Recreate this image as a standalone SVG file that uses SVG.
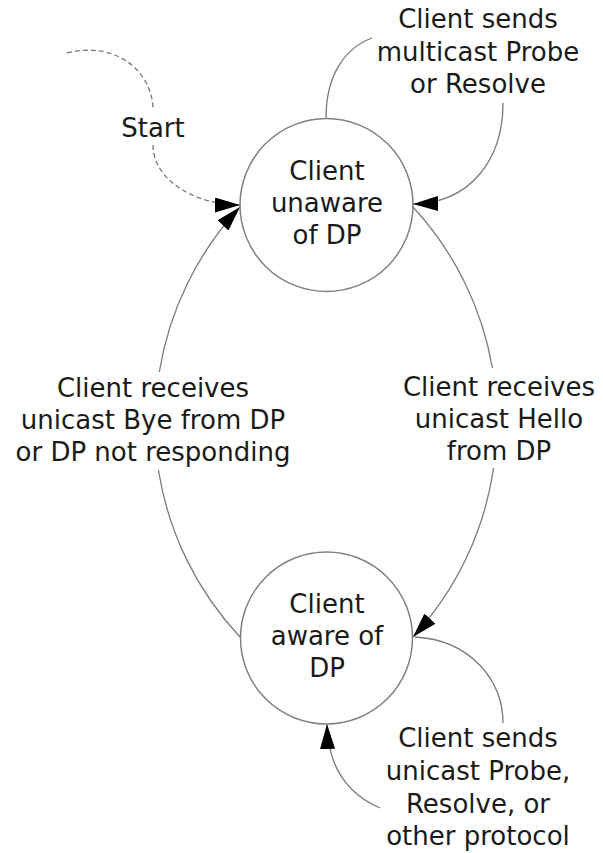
<svg xmlns="http://www.w3.org/2000/svg" width="603" height="853" viewBox="0 0 603 853">
<style>
.node{fill:#ffffff;stroke:#808080;stroke-width:1.5}
.lbl{font-family:"DejaVu Sans",Verdana,sans-serif;font-size:26px;fill:#1a1a1a;text-anchor:middle}
.edge{fill:none;stroke:#7a7a7a;stroke-width:1.3}
.dash{stroke-dasharray:5 3}
</style>
<defs>
<marker id="arr" markerUnits="userSpaceOnUse" markerWidth="26" markerHeight="16" refX="25" refY="7.5" orient="auto">
<path d="M0,0 L25,7.5 L0,15 z" fill="#000"/>
</marker>
</defs>
<rect width="603" height="853" fill="#ffffff"/>
<g id="connectors">
<path class="edge dash" d="M67 53 C120 40 153 75 153 110"/>
<path class="edge dash" d="M153 145 C153 180 195 205 240 205" marker-end="url(#arr)"/>
<path class="edge" d="M326 118 C326 75 345 48 372 38"/>
<path class="edge" d="M503 103 C503 160 470 203 413 204" marker-end="url(#arr)"/>
<path class="edge" d="M413 207 A317 317 0 0 1 492.4 368"/>
<path class="edge" d="M493.6 468 A317 317 0 0 1 413 637" marker-end="url(#arr)"/>
<path class="edge" d="M240 637 A317 317 0 0 1 158.4 470"/>
<path class="edge" d="M159.3 372 A317 317 0 0 1 240 207" marker-end="url(#arr)"/>
<path class="edge" d="M415 637 C470 640 503 680 503 723"/>
<path class="edge" d="M380 808 C350 795 328 770 327 724" marker-end="url(#arr)"/>
</g>
<g id="start">
<text class="lbl" x="153" y="137">Start</text>
</g>
<g id="unaware">
<circle class="node" cx="326.5" cy="205" r="86.5"/>
<text class="lbl" x="327" y="180">Client</text>
<text class="lbl" x="327" y="212">unaware</text>
<text class="lbl" x="327" y="244">of DP</text>
</g>
<g id="aware">
<circle class="node" cx="326.5" cy="638" r="86"/>
<text class="lbl" x="327" y="613">Client</text>
<text class="lbl" x="327" y="645">aware of</text>
<text class="lbl" x="327" y="677">DP</text>
</g>
<g id="label-multicast">
<text class="lbl" x="478" y="28">Client sends</text>
<text class="lbl" x="478" y="61">multicast Probe</text>
<text class="lbl" x="478" y="93">or Resolve</text>
</g>
<g id="label-hello">
<text class="lbl" x="499" y="396">Client receives</text>
<text class="lbl" x="499" y="428">unicast Hello</text>
<text class="lbl" x="499" y="460">from DP</text>
</g>
<g id="label-bye">
<text class="lbl" x="153" y="397">Client receives</text>
<text class="lbl" x="153" y="429">unicast Bye from DP</text>
<text class="lbl" x="153" y="461">or DP not responding</text>
</g>
<g id="label-unicast">
<text class="lbl" x="478" y="747">Client sends</text>
<text class="lbl" x="478" y="780">unicast Probe,</text>
<text class="lbl" x="478" y="813">Resolve, or</text>
<text class="lbl" x="478" y="845">other protocol</text>
</g>
</svg>
